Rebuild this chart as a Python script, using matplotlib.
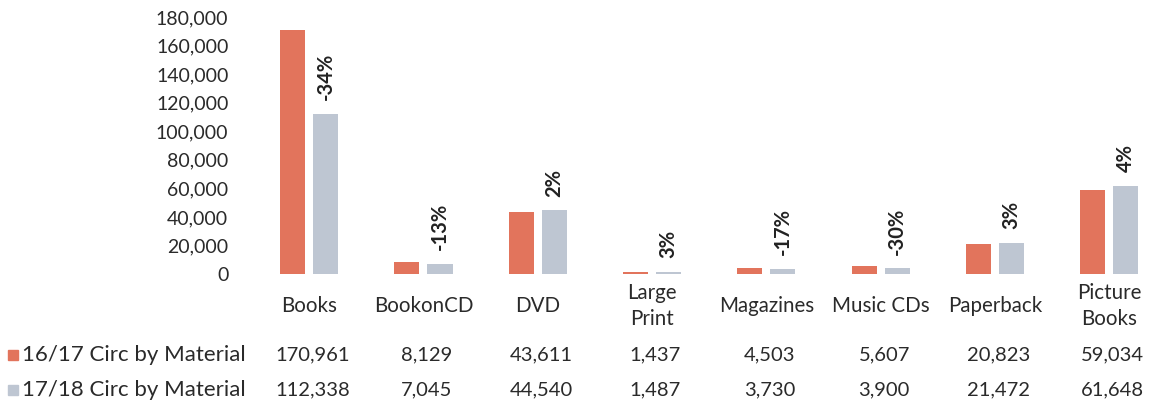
import matplotlib
matplotlib.use("Agg")
import matplotlib.pyplot as plt
import matplotlib.transforms as mtransforms
from matplotlib.ticker import FuncFormatter

plt.rcParams["font.family"] = ["Lato", "DejaVu Sans"]

# ─── Data ─────────────────────────────────────────────────────────────────────
categories = ["Books", "BookonCD", "DVD", "Large\nPrint", "Magazines",
              "Music CDs", "Paperback", "Picture\nBooks"]
circ_1617 = [170961, 8129, 43611, 1437, 4503, 5607, 20823, 59034]
circ_1718 = [112338, 7045, 44540, 1487, 3730, 3900, 21472, 61648]
pct_labels = ["-34%", "-13%", "2%", "3%", "-17%", "-30%", "3%", "4%"]
series_names = ["16/17 Circ by Material", "17/18 Circ by Material"]
y_ticks = list(range(0, 180001, 20000))

ORANGE = "#E2745C"
GREY = "#BEC6D2"
TEXT = "#2a2a2a"

W, H = 1149, 409
fig = plt.figure(figsize=(W / 100, H / 100), dpi=100)
fig.patch.set_facecolor("white")

# axes placed in pixel terms: left edge 252, zero line at 274, top at 17
step = 114.3
ax = fig.add_axes([252 / W, 1 - 274 / H, (W - 252) / W, (274 - 17) / H])
ax.set_xlim(-0.5, -0.5 + (W - 252) / step)
ax.set_ylim(0, 180000)

bw = 0.22
off = 0.145
xs = list(range(len(categories)))
ax.bar([x - off for x in xs], circ_1617, width=bw, color=ORANGE, zorder=2)
ax.bar([x + off for x in xs], circ_1718, width=bw, color=GREY, zorder=2)

for x, v, lab in zip(xs, circ_1718, pct_labels):
    ax.annotate(lab, (x + off, v), xytext=(0, 10), textcoords="offset points",
                rotation=90, ha="center", va="bottom", fontsize=14.5,
                fontweight="bold", color="#222222")

ax.set_yticks(y_ticks)
ax.yaxis.set_major_formatter(FuncFormatter(lambda v, p: f"{int(v):,}"))
ax.tick_params(axis="y", length=0, pad=17, labelsize=14, labelcolor=TEXT)
ax.set_xticks([])
for s in ax.spines.values():
    s.set_visible(False)

# ─── Data table underneath ────────────────────────────────────────────────────
trans = mtransforms.blended_transform_factory(ax.transData, fig.transFigure)
row_cat = 1 - 306 / H
row_1 = 1 - 355 / H
row_2 = 1 - 390 / H

for x, c in zip(xs, categories):
    ax.text(x, row_cat, c, transform=trans, ha="center", va="center",
            fontsize=14.8, color=TEXT, linespacing=1.35, clip_on=False)

for x, a, b in zip(xs, circ_1617, circ_1718):
    ax.text(x + 0.03, row_1, f"{a:,}", transform=trans, ha="center",
            va="center", fontsize=14.5, color=TEXT, clip_on=False)
    ax.text(x + 0.03, row_2, f"{b:,}", transform=trans, ha="center",
            va="center", fontsize=14.5, color=TEXT, clip_on=False)

# legend keys + series names
for yrow, col, name in [(row_1, ORANGE, series_names[0]),
                        (row_2, GREY, series_names[1])]:
    fig.patches.append(plt.Rectangle((8 / W, yrow - 5 / H), 10 / W, 10 / H,
                                     transform=fig.transFigure, color=col))
    fig.text(22 / W, yrow, name, ha="left", va="center", fontsize=16,
             color=TEXT)

fig.savefig("out.png", dpi=100)
